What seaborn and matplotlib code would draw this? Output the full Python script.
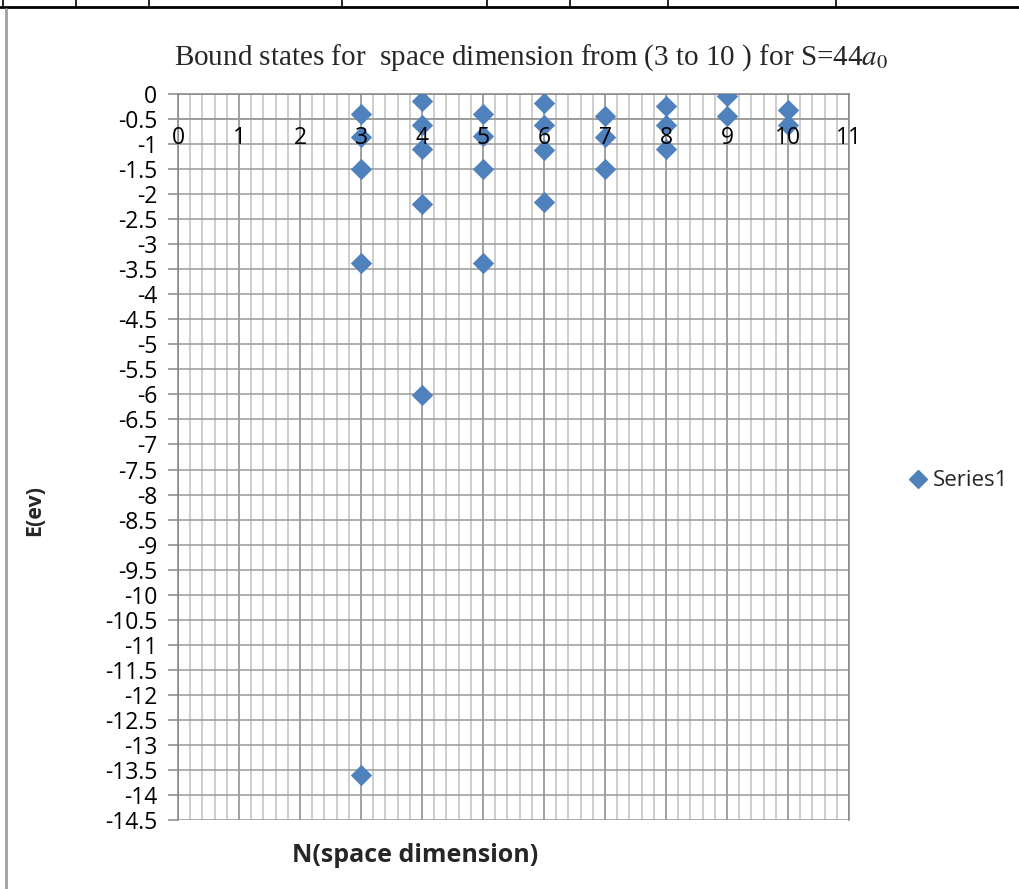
import numpy as np
import pandas as pd
import matplotlib
matplotlib.use("Agg")
import matplotlib.pyplot as plt
from matplotlib.ticker import MultipleLocator, FuncFormatter
from matplotlib.lines import Line2D
import seaborn as sns

# ---- data ----
n_dim = [3, 3, 3, 3, 3,
         4, 4, 4, 4, 4,
         5, 5, 5, 5,
         6, 6, 6, 6,
         7, 7, 7,
         8, 8, 8,
         9, 9,
         10, 10]
energy = [-0.40, -0.85, -1.49, -3.38, -13.6,
          -0.13, -0.61, -1.09, -2.2, -6.02,
          -0.40, -0.84, -1.50, -3.38,
          -0.17, -0.61, -1.12, -2.15,
          -0.43, -0.85, -1.50,
          -0.23, -0.62, -1.10,
          -0.04, -0.43,
          -0.32, -0.62]
series_name = "Series1"
x_ticks = list(range(0, 12))
title = "Bound states for  space dimension from (3 to 10 ) for S=44$a_0$"
x_label = "N(space dimension)"
y_label = "E(ev)"

df = pd.DataFrame({"N": n_dim, "E": energy})

sns.set_theme(style="white")
plt.rcParams["font.family"] = ["Open Sans", "DejaVu Sans"]
plt.rcParams["mathtext.fontset"] = "stix"

W, H = 1019, 889
fig = plt.figure(figsize=(W / 100, H / 100), dpi=100)
ax = fig.add_axes([178 / W, 1 - 820 / H, (849 - 178) / W, (820 - 94) / H])

marker_color = "#4F81BD"
sns.scatterplot(data=df, x="N", y="E", ax=ax, marker="D", s=118,
                color=marker_color, edgecolor=marker_color, linewidth=0,
                legend=False, zorder=5)

ax.set_xlim(0, 11)
ax.set_ylim(-14.5, 0)
ax.set_xticks(x_ticks)
ax.set_xticklabels([])
ax.xaxis.set_minor_locator(MultipleLocator(0.2))
ax.yaxis.set_major_locator(MultipleLocator(0.5))
ax.yaxis.set_major_formatter(FuncFormatter(lambda v, p: f"{v:g}"))

ax.grid(True, which="major", axis="x", color="#868686", linewidth=1.1)
ax.grid(True, which="minor", axis="x", color="#c0c0c0", linewidth=1.1)
ax.grid(True, which="major", axis="y", color="#9a9a9a", linewidth=1.1)
ax.set_axisbelow(True)

for side in ["top", "right", "left"]:
    ax.spines[side].set_color("#868686")
    ax.spines[side].set_linewidth(1.1)
ax.spines["bottom"].set_position(("data", -0.5))
ax.spines["bottom"].set_color("#9a9a9a")
ax.spines["bottom"].set_linewidth(1.1)

ax.tick_params(axis="x", which="both", length=0)
ax.tick_params(axis="y", which="major", length=7, width=1.1, color="#868686",
               direction="out", pad=8, labelsize=16.5, labelcolor="black", left=True)

# horizontal-axis labels drawn on top of the markers (axis crosses at -0.5)
for xv in x_ticks:
    ax.annotate(str(xv), xy=(xv, -0.5), xytext=(0, -13.5), textcoords="offset points",
                ha="center", va="center", fontsize=16.5, color="black",
                zorder=10, annotation_clip=False)

ax.set_xlabel("")
ax.set_ylabel("")

fig.text(531 / W, 1 - 58 / H, title, ha="center", va="center",
         fontsize=21, family=["Liberation Serif"])
fig.text(415 / W, 1 - 856 / H, x_label, ha="center", va="center",
         fontsize=18, fontweight="bold")
fig.text(35 / W, 1 - 511 / H, y_label, ha="center", va="center",
         fontsize=15.5, fontweight="bold", rotation=90)

handle = Line2D([], [], marker="D", linestyle="none", markersize=9,
                markerfacecolor=marker_color, markeredgecolor=marker_color)
fig.legend([handle], [series_name], loc="center left",
           bbox_to_anchor=(898 / W, 1 - 481 / H), frameon=False,
           fontsize=16, handletextpad=0.15, borderaxespad=0, handlelength=1.0)

# outer frame lines
fig.add_artist(Line2D([0, 1], [1 - 7 / H, 1 - 7 / H], transform=fig.transFigure,
                      color="black", linewidth=2))
for xp in [3, 76, 149, 342, 487, 570, 668, 836]:
    fig.add_artist(Line2D([xp / W, xp / W], [1 - 7 / H, 1.0], transform=fig.transFigure,
                          color="black", linewidth=1.2))
fig.add_artist(Line2D([6 / W, 6 / W], [0, 1 - 9 / H], transform=fig.transFigure,
                      color="#a0a0a0", linewidth=2))

fig.savefig("out.png", dpi=100)
